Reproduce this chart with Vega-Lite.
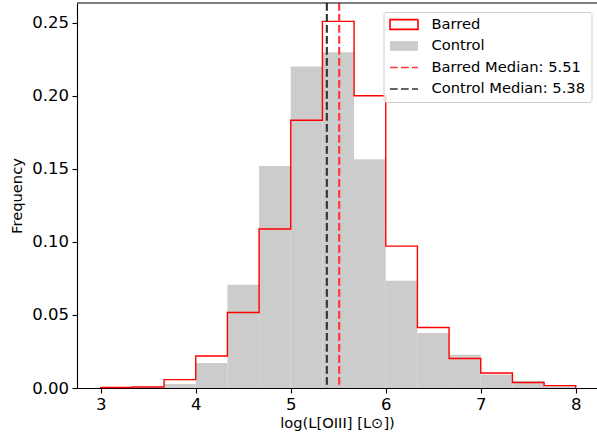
{
  "$schema": "https://vega.github.io/schema/vega-lite/v6.json",
  "width": 520,
  "height": 385,
  "autosize": {"type": "none"},
  "padding": {"left": 77, "top": 3, "right": 0, "bottom": 51},
  "background": "white",
  "config": {
    "font": "DejaVu Sans",
    "view": {"stroke": null},
    "axis": {
      "grid": false,
      "domainColor": "black",
      "domainWidth": 1.1,
      "tickColor": "black",
      "tickWidth": 1.1,
      "tickSize": 5,
      "labelFont": "DejaVu Sans",
      "labelFontSize": 16.5,
      "labelColor": "black",
      "titleFont": "DejaVu Sans",
      "titleFontSize": 14.7,
      "titleFontWeight": "normal",
      "titleColor": "black"
    },
    "axisX": {"labelPadding": 3, "titlePadding": 2.5},
    "axisY": {"labelPadding": 3.5, "titlePadding": 7}
  },
  "datasets": {
    "control": [
      {"series": "Control", "bin_start": 3.0, "bin_end": 3.3333, "freq": 0.0002},
      {"series": "Control", "bin_start": 3.3333, "bin_end": 3.6667, "freq": 0.0009},
      {"series": "Control", "bin_start": 3.6667, "bin_end": 4.0, "freq": 0.0027},
      {"series": "Control", "bin_start": 4.0, "bin_end": 4.3333, "freq": 0.0171},
      {"series": "Control", "bin_start": 4.3333, "bin_end": 4.6667, "freq": 0.0707},
      {"series": "Control", "bin_start": 4.6667, "bin_end": 5.0, "freq": 0.152},
      {"series": "Control", "bin_start": 5.0, "bin_end": 5.3333, "freq": 0.22},
      {"series": "Control", "bin_start": 5.3333, "bin_end": 5.6667, "freq": 0.2298},
      {"series": "Control", "bin_start": 5.6667, "bin_end": 6.0, "freq": 0.1566},
      {"series": "Control", "bin_start": 6.0, "bin_end": 6.3333, "freq": 0.0734},
      {"series": "Control", "bin_start": 6.3333, "bin_end": 6.6667, "freq": 0.0376},
      {"series": "Control", "bin_start": 6.6667, "bin_end": 7.0, "freq": 0.0228},
      {"series": "Control", "bin_start": 7.0, "bin_end": 7.3333, "freq": 0.0093},
      {"series": "Control", "bin_start": 7.3333, "bin_end": 7.6667, "freq": 0.0048},
      {"series": "Control", "bin_start": 7.6667, "bin_end": 8.0, "freq": 0.0011}
    ],
    "barred": [
      {"x": 3.0, "freq": 0, "ord": 0},
      {"x": 3.0, "freq": 0.0003, "ord": 1},
      {"x": 3.3333, "freq": 0.0007, "ord": 2},
      {"x": 3.6667, "freq": 0.0057, "ord": 3},
      {"x": 4.0, "freq": 0.0219, "ord": 4},
      {"x": 4.3333, "freq": 0.0517, "ord": 5},
      {"x": 4.6667, "freq": 0.1088, "ord": 6},
      {"x": 5.0, "freq": 0.1833, "ord": 7},
      {"x": 5.3333, "freq": 0.2509, "ord": 8},
      {"x": 5.6667, "freq": 0.2, "ord": 9},
      {"x": 6.0, "freq": 0.0971, "ord": 10},
      {"x": 6.3333, "freq": 0.0414, "ord": 11},
      {"x": 6.6667, "freq": 0.0202, "ord": 12},
      {"x": 7.0, "freq": 0.0103, "ord": 13},
      {"x": 7.3333, "freq": 0.0038, "ord": 14},
      {"x": 7.6667, "freq": 0.0016, "ord": 15},
      {"x": 8.0, "freq": 0, "ord": 16}
    ],
    "medians": [
      {"series": "Barred Median: 5.51", "value": 5.51},
      {"series": "Control Median: 5.38", "value": 5.38}
    ],
    "frame": [
      {"ymax": 0.2635}
    ]
  },
  "layer": [
    {
      "data": {"name": "control"},
      "mark": {"type": "rect", "color": "#cccccc"},
      "encoding": {
        "x": {
          "field": "bin_start",
          "type": "quantitative",
          "scale": {"domain": [2.75, 8.2237], "nice": false, "zero": false},
          "axis": {"values": [3, 4, 5, 6, 7, 8], "format": "d", "title": "log(L[OIII] [L⊙])"}
        },
        "x2": {"field": "bin_end"},
        "y": {
          "field": "freq",
          "type": "quantitative",
          "scale": {"domain": [0, 0.2635], "nice": false, "zero": true},
          "axis": {"values": [0, 0.05, 0.1, 0.15, 0.2, 0.25], "format": ".2f", "title": "Frequency"}
        },
        "y2": {"datum": 0}
      }
    },
    {
      "data": {"name": "barred"},
      "mark": {"type": "line", "interpolate": "step-after", "strokeWidth": 1.4, "color": "#ff0000"},
      "encoding": {
        "x": {"field": "x", "type": "quantitative"},
        "y": {"field": "freq", "type": "quantitative"},
        "order": {"field": "ord", "type": "quantitative"}
      }
    },
    {
      "data": {"name": "medians"},
      "mark": {"type": "rule", "strokeWidth": 2.1},
      "encoding": {
        "x": {"field": "value", "type": "quantitative"},
        "color": {
          "field": "series",
          "type": "nominal",
          "scale": {"domain": ["Barred Median: 5.51", "Control Median: 5.38"], "range": ["#ff3333", "#333333"]},
          "legend": null
        },
        "strokeDash": {
          "field": "series",
          "type": "nominal",
          "scale": {
            "domain": ["Barred", "Control", "Barred Median: 5.51", "Control Median: 5.38"],
            "range": [[1, 0], [1, 0], [7.7, 3.3], [7.7, 3.3]]
          },
          "legend": {
            "title": null,
            "orient": "none",
            "legendX": 306.5,
            "legendY": 9,
            "symbolSize": 784,
            "clipHeight": 14,
            "symbolStrokeWidth": 1.6,
            "symbolOpacity": 1,
            "symbolType": {"expr": "indexof(datum.value, 'Median') >= 0 ? 'stroke' : 'M-1,-0.35H1V0.35H-1Z'"},
            "symbolFillColor": {"expr": "datum.value === 'Control' ? '#cccccc' : 'transparent'"},
            "symbolStrokeColor": {"expr": "datum.value === 'Barred' ? '#ff0000' : (datum.value === 'Control' ? 'transparent' : (datum.value === 'Barred Median: 5.51' ? '#ff3333' : '#333333'))"},
            "rowPadding": 6.5,
            "labelFont": "DejaVu Sans",
            "labelFontSize": 14.7,
            "labelColor": "black",
            "labelOffset": 12.5,
            "padding": 5.5,
            "fillColor": "rgba(255,255,255,0.8)",
            "strokeColor": "#cccccc",
            "cornerRadius": 3
          }
        }
      }
    },
    {
      "data": {"name": "frame"},
      "mark": {"type": "rule", "color": "black", "strokeWidth": 1.1},
      "encoding": {
        "y": {"field": "ymax", "type": "quantitative"}
      }
    }
  ]
}
